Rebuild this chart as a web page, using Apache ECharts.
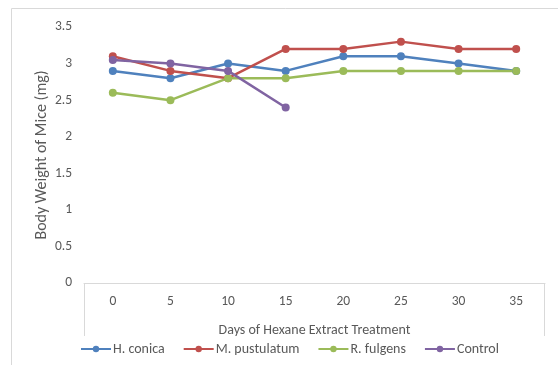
<!DOCTYPE html>
<html><head><meta charset="utf-8">
<script src="https://cdn.jsdelivr.net/npm/echarts@6/dist/echarts.min.js"></script>
<style>html,body{margin:0;padding:0;background:#fff}#c{width:558px;height:365px}</style>
</head><body><div id="c"></div>
<script>
var days = ['0','5','10','15','20','25','30','35'];
var hConica = [2.9, 2.8, 3.0, 2.9, 3.1, 3.1, 3.0, 2.9];
var mPustulatum = [3.1, 2.9, 2.8, 3.2, 3.2, 3.3, 3.2, 3.2];
var rFulgens = [2.6, 2.5, 2.8, 2.8, 2.9, 2.9, 2.9, 2.9];
var control = [3.05, 3.0, 2.9, 2.4];
var yTicks = [0, 0.5, 1, 1.5, 2, 2.5, 3, 3.5];

var FONT = 'Carlito, "Liberation Sans", sans-serif';
var TXT = '#595959';
var chart = echarts.init(document.getElementById('c'));
function ser(name, data, color){
  return {name:name, type:'line', data:data, symbol:'circle', symbolSize:8,
    lineStyle:{width:2.5, color:color}, itemStyle:{color:color}, animation:false};
}
chart.setOption({
  animation:false,
  textStyle:{fontFamily:FONT, color:TXT},
  grid:{left:84, right:13, top:27, bottom:82},
  xAxis:{type:'category', data:days, boundaryGap:true,
    axisLine:{lineStyle:{color:'#D9D9D9', width:1}}, axisTick:{show:false},
    axisLabel:{color:TXT, fontSize:13.5, fontFamily:FONT, margin:12},
    name:'Days of Hexane Extract Treatment', nameLocation:'middle', nameGap:40, nameMoveOverlap:false,
    nameTextStyle:{color:TXT, fontSize:14, fontFamily:FONT}},
  yAxis:{type:'value', min:yTicks[0], max:yTicks[yTicks.length-1], interval:0.5,
    axisLine:{show:false}, axisTick:{show:false}, splitLine:{show:false},
    axisLabel:{color:TXT, fontSize:13.5, fontFamily:FONT, margin:12},
    name:'Body Weight of Mice (mg)', nameLocation:'middle', nameGap:34, nameMoveOverlap:false,
    nameTextStyle:{color:TXT, fontSize:16, fontFamily:FONT}},
  legend:{bottom:4, left:75, itemWidth:30, itemHeight:8, itemGap:18,
    textStyle:{color:TXT, fontSize:14, fontFamily:FONT, padding:[0,0,0,-3]}},
  series:[ser('H. conica', hConica, '#4F81BD'), ser('M. pustulatum', mPustulatum, '#C0504D'),
    ser('R. fulgens', rFulgens, '#9BBB59'), ser('Control', control, '#8064A2')]
});
// border of chart area and x-axis box ends
var c0 = chart.convertToPixel({gridIndex:0}, [0, 0]);
var c1 = chart.convertToPixel({gridIndex:0}, [1, 0]);
var bw = c1[0] - c0[0];
var xl = c0[0] - bw/2, xr = c0[0] + bw*(days.length - 0.5);
chart.setOption({graphic:[
  {type:'rect', shape:{x:11.5, y:8.5, width:600, height:400}, style:{fill:null, stroke:'#D9D9D9', lineWidth:1}, silent:true},
  {type:'line', shape:{x1:Math.round(xl)+0.5, y1:c0[1], x2:Math.round(xl)+0.5, y2:c0[1]+53}, style:{stroke:'#D9D9D9', lineWidth:1}},
  {type:'line', shape:{x1:Math.round(xr)-0.5, y1:c0[1], x2:Math.round(xr)-0.5, y2:c0[1]+53}, style:{stroke:'#D9D9D9', lineWidth:1}}
]});
</script></body></html>
